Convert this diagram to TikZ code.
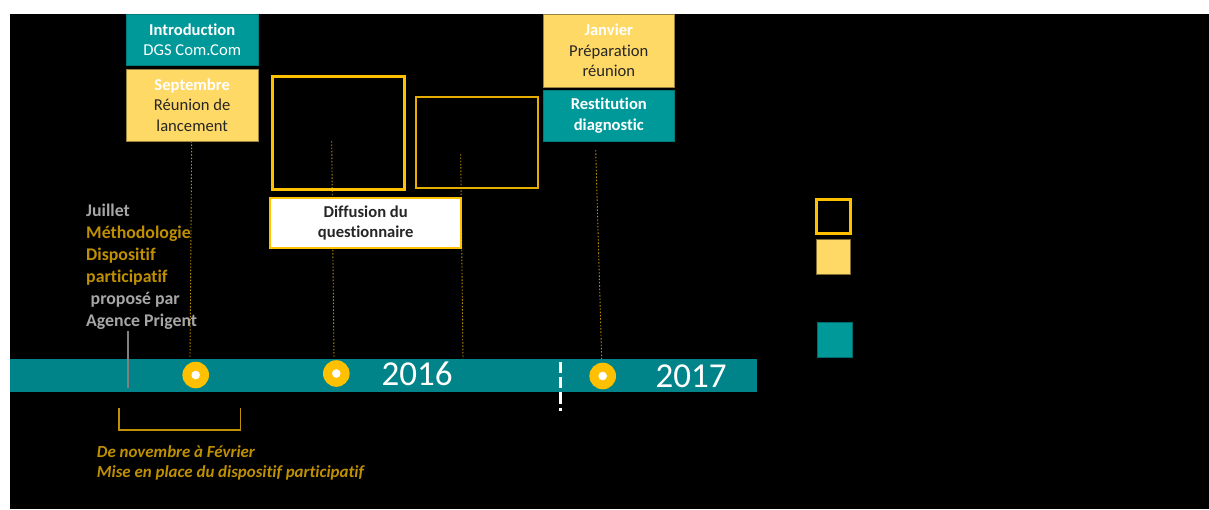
\documentclass[tikz,border=0pt]{standalone}
\usepackage{fontspec}
\setmainfont{Carlito}[Ligatures=NoCommon]
\definecolor{barteal}{RGB}{0,132,137}
\definecolor{boxteal}{RGB}{0,153,153}
\definecolor{softyel}{RGB}{255,217,102}
\definecolor{gold}{RGB}{255,192,0}
\definecolor{darkgold}{RGB}{191,144,0}
\definecolor{greytxt}{RGB}{166,166,166}
\definecolor{darktxt}{RGB}{38,38,38}
\begin{document}
\begin{tikzpicture}[x=1pt,y=-1pt,
  boxfont/.style={font=\fontsize{16.6}{20.5}\selectfont},
  tealbox/.style={boxfont, fill=boxteal, draw=boxteal!80!black, line width=0.6pt, text=white, align=center, inner sep=0pt},
  yelbox/.style={boxfont, fill=softyel, draw=softyel!60!black, line width=0.6pt, text=darktxt, align=center, inner sep=0pt},
  outlinebox/.style={draw=gold, line width=3pt, inner sep=0pt},
  dotline/.style={draw=darkgold, line width=0.9pt, dash pattern=on 1.5pt off 1.8pt},
  marker/.style={circle, fill=gold, minimum size=26.6pt, inner sep=0pt},
  markdot/.style={circle, fill=white, minimum size=8.6pt, inner sep=0pt},
  lefttxt/.style={anchor=base west, inner sep=0pt, font=\fontsize{17.8}{22}\selectfont\bfseries},
  yeartxt/.style={anchor=base, inner sep=0pt, text=white, font=\fontsize{35}{40}\selectfont},
  ittxt/.style={anchor=base west, inner sep=0pt, text=darkgold, font=\fontsize{16.9}{20}\selectfont\bfseries\itshape}
]
\useasboundingbox (0,0) rectangle (1209,509);
\fill[white] (0,0) rectangle (1209,509);
\fill[black] (10,14) rectangle (1209,509);

% dotted connector end points
\coordinate (d1a) at (191.7,141); \coordinate (d1b) at (190,358);
\coordinate (d2a) at (331.7,141); \coordinate (d2b) at (334,358);
\coordinate (d3a) at (460.7,154); \coordinate (d3b) at (463,360);
\coordinate (d4a) at (595.7,150); \coordinate (d4b) at (601.7,360);
\draw[dotline] (d1a) -- (d1b);
\draw[dotline] (d2a) -- (d2b);
\draw[dotline] (d3a) -- (d3b);
\draw[dotline] (d4a) -- (d4b);

% top boxes
\node[tealbox, minimum width=132pt, minimum height=51pt] (intro) at (192.2,39.5)
  {\textbf{Introduction}\\DGS Com.Com};
\node[yelbox, minimum width=132pt, minimum height=72pt] (sept) at (192.2,105)
  {\textcolor{white}{\textbf{Septembre}}\\Réunion de\\lancement};
\node[yelbox, minimum width=131pt, minimum height=73pt] (janv) at (608.8,50.5)
  {\textcolor{white}{\textbf{Janvier}}\\Préparation\\réunion};
\node[tealbox, minimum width=131pt, minimum height=51pt] (resti) at (608.8,115.5)
  {\textbf{Restitution}\\\textbf{diagnostic}};

% outline boxes
\node[outlinebox, minimum width=131.7pt, minimum height=112.5pt] (boxa) at (338.4,133) {};
\node[outlinebox, draw=gold!90!black, line width=2pt, minimum width=122pt, minimum height=91pt] (boxb) at (477.3,142.5) {};
\node[boxfont, draw=gold, line width=2pt, fill=white, text=darktxt, align=center, inner sep=0pt,
  minimum width=191.3pt, minimum height=50pt] (diff) at (365.7,223)
  {\textbf{Diffusion du}\\\textbf{questionnaire}};

% legend
\node[outlinebox, minimum width=34pt, minimum height=34pt] (leg1) at (833.5,216.5) {};
\node[fill=softyel, draw=softyel!50!black, line width=0.6pt, minimum width=34pt, minimum height=35pt, inner sep=0pt] (leg2) at (833,256.5) {};
\node[fill=boxteal, draw=boxteal!70!black, line width=0.6pt, minimum width=35pt, minimum height=35pt, inner sep=0pt] (leg3) at (834.5,339.5) {};

% left text
\node[lefttxt, text=greytxt] (l1) at (86,216) {Juillet};
\node[lefttxt, text=darkgold] (l2) at (86,238) {Méthodologie};
\node[lefttxt, text=darkgold] (l3) at (86,260) {Dispositif};
\node[lefttxt, text=darkgold] (l4) at (86,282) {participatif};
\node[lefttxt, text=greytxt] (l5) at (90.5,304) {proposé par};
\node[lefttxt, text=greytxt] (l6) at (86,326) {Agence Prigent};

% timeline bar
\fill[barteal] (10,359) rectangle (756.7,392.3);
\coordinate (g1) at (128,331); \coordinate (g2) at (128,388);
\draw[gray, line width=2.7pt] (g1) -- (g2);
\coordinate (w1) at (560,361.7); \coordinate (w2) at (560,411);
\draw[white, line width=3pt, dash pattern=on 11.3pt off 4pt] (w1) -- (w2);

\node[marker] (c1) at (195.7,375) {}; \node[markdot] (c1d) at (c1) {};
\node[marker] (c2) at (336.3,373.5) {}; \node[markdot] (c2d) at (c2) {};
\node[marker] (c3) at (602.7,376) {}; \node[markdot] (c3d) at (c3) {};

\node[yeartxt] (y16) at (417,385) {2016};
\node[yeartxt] (y17) at (691,387.7) {2017};

% bracket
\coordinate (b1) at (119,408); \coordinate (b2) at (119,430);
\coordinate (b3) at (240.7,430); \coordinate (b4) at (240.7,408);
\draw[darkgold, line width=1.2pt] (b1) -- (b2) -- (b3) -- (b4);

\node[ittxt] (i1) at (96.7,457.5) {De novembre à Février};
\node[ittxt] (i2) at (96.7,477.5) {Mise en place du dispositif participatif};
\end{tikzpicture}
\end{document}
